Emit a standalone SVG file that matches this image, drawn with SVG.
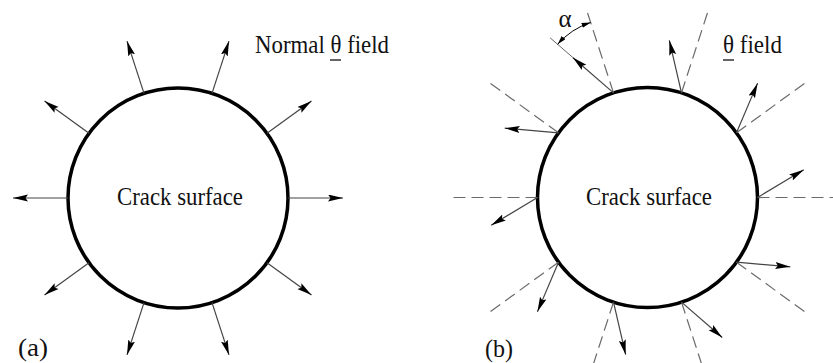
<svg xmlns="http://www.w3.org/2000/svg" width="833" height="363" viewBox="0 0 833 363">
  <defs>
    <marker id="ah" markerUnits="userSpaceOnUse" markerWidth="16" markerHeight="8" refX="15" refY="3.5" orient="auto">
      <path d="M0,0 L15,3.5 L0,7 L2.5,3.5 z" fill="#000"/>
    </marker>
    <marker id="ahs" markerUnits="userSpaceOnUse" markerWidth="10" markerHeight="6" refX="9" refY="2.5" orient="auto-start-reverse">
      <path d="M0,0 L9,2.5 L0,5 z" fill="#000"/>
    </marker>
    <style>
      .surf { fill: none; stroke: #000; stroke-width: 3.5; }
      .arr { stroke: #444; stroke-width: 1.2; fill: none; marker-end: url(#ah); }
      .dash { stroke: #6a6a6a; stroke-width: 1.2; stroke-dasharray: 12 6; fill: none; }
      .thin { stroke: #666; stroke-width: 1; fill: none; }
      .dim { stroke: #000; stroke-width: 1; fill: none; marker-start: url(#ahs); marker-end: url(#ahs); }
      .lbl { font-family: "Liberation Serif", "Times New Roman", serif; font-size: 25px; fill: #111; }
      .ul { stroke: #111; stroke-width: 1.3; }
    </style>
  </defs>

  <!-- Panel (a) -->
  <g id="crack-a">
    <circle class="surf" cx="178" cy="198" r="110"/>
    <text class="lbl" x="117" y="205" textLength="126" lengthAdjust="spacingAndGlyphs">Crack surface</text>
  </g>
  <g id="connectors-a">
    <line class="arr" x1="288" y1="198" x2="343" y2="198"/>
    <line class="arr" x1="266.99" y1="133.34" x2="311.49" y2="101.01"/>
    <line class="arr" x1="211.99" y1="93.38" x2="228.99" y2="41.08"/>
    <line class="arr" x1="144.01" y1="93.38" x2="127.01" y2="41.08"/>
    <line class="arr" x1="89.01" y1="133.34" x2="44.51" y2="101.01"/>
    <line class="arr" x1="68" y1="198" x2="13" y2="198"/>
    <line class="arr" x1="89.01" y1="262.66" x2="44.51" y2="294.99"/>
    <line class="arr" x1="144.01" y1="302.62" x2="127.01" y2="354.92"/>
    <line class="arr" x1="211.99" y1="302.62" x2="228.99" y2="354.92"/>
    <line class="arr" x1="266.99" y1="262.66" x2="311.49" y2="294.99"/>
  </g>
  <g id="label-a">
    <text class="lbl" x="255" y="53" textLength="134" lengthAdjust="spacingAndGlyphs">Normal θ field</text>
    <line class="ul" x1="330" y1="60" x2="341" y2="60"/>
    <text class="lbl" x="18" y="356" font-size="27" textLength="30" lengthAdjust="spacingAndGlyphs">(a)</text>
  </g>

  <!-- Panel (b) -->
  <g id="crack-b">
    <circle class="surf" cx="647.5" cy="197.5" r="110"/>
    <text class="lbl" x="586" y="205" textLength="126" lengthAdjust="spacingAndGlyphs">Crack surface</text>
  </g>
  <g id="normals-b">
    <line class="dash" x1="841.5" y1="197.5" x2="757.5" y2="197.5"/>
    <line class="dash" x1="804.45" y1="83.47" x2="736.49" y2="132.84"/>
    <line class="dash" x1="707.45" y1="12.99" x2="681.49" y2="92.88"/>
    <line class="dash" x1="587.55" y1="12.99" x2="613.51" y2="92.88"/>
    <line class="dash" x1="490.55" y1="83.47" x2="558.51" y2="132.84"/>
    <line class="dash" x1="453.5" y1="197.5" x2="537.5" y2="197.5"/>
    <line class="dash" x1="490.55" y1="311.53" x2="558.51" y2="262.16"/>
    <line class="dash" x1="587.55" y1="382.01" x2="613.51" y2="302.12"/>
    <line class="dash" x1="707.45" y1="382.01" x2="681.49" y2="302.12"/>
    <line class="dash" x1="804.45" y1="311.53" x2="736.49" y2="262.16"/>
  </g>
  <g id="connectors-b">
    <line class="arr" x1="757.5" y1="197.5" x2="803.79" y2="169.69"/>
    <line class="arr" x1="736.49" y1="132.84" x2="757.59" y2="83.13"/>
    <line class="arr" x1="681.49" y1="92.88" x2="669.34" y2="40.26"/>
    <line class="arr" x1="613.51" y1="92.88" x2="572.76" y2="57.45"/>
    <line class="thin" x1="572.76" y1="57.45" x2="550.1" y2="37.8"/>
    <line class="arr" x1="558.51" y1="132.84" x2="504.72" y2="128.13"/>
    <line class="arr" x1="537.5" y1="197.5" x2="491.21" y2="225.31"/>
    <line class="arr" x1="558.51" y1="262.16" x2="537.41" y2="311.87"/>
    <line class="arr" x1="613.51" y1="302.12" x2="625.66" y2="354.74"/>
    <line class="arr" x1="681.49" y1="302.12" x2="722.24" y2="337.55"/>
    <line class="arr" x1="736.49" y1="262.16" x2="790.28" y2="266.87"/>
    <path class="dim" d="M557.66,44.33 A74,74 0 0 1 590.64,22.5"/>
  </g>
  <g id="label-b">
    <text class="lbl" x="565" y="27" text-anchor="middle" font-size="25">α</text>
    <text class="lbl" x="723" y="53" textLength="59" lengthAdjust="spacingAndGlyphs">θ field</text>
    <line class="ul" x1="723" y1="60" x2="734" y2="60"/>
    <text class="lbl" x="485" y="357" font-size="27" textLength="28" lengthAdjust="spacingAndGlyphs">(b)</text>
  </g>
</svg>
